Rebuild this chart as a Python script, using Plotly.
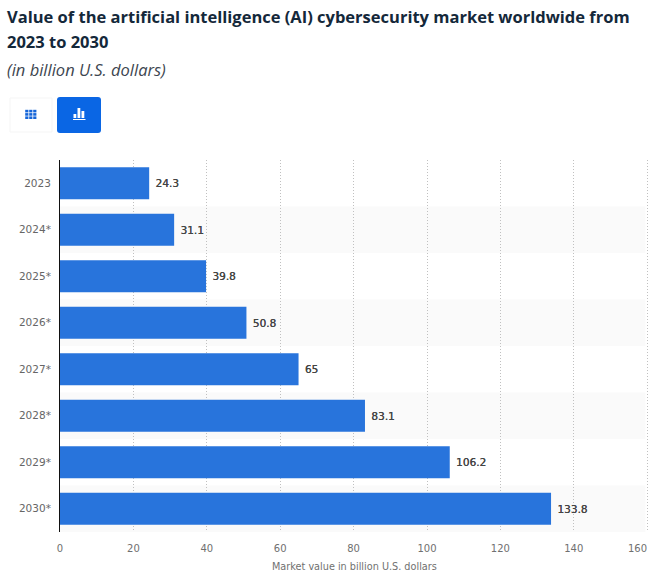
import plotly.graph_objects as go

years = ["2023", "2024*", "2025*", "2026*", "2027*", "2028*", "2029*", "2030*"]
values = [24.3, 31.1, 39.8, 50.8, 65, 83.1, 106.2, 133.8]
x_ticks = [0, 20, 40, 60, 80, 100, 120, 140, 160]
# last label sits left of its gridline in the original, so it is placed separately
x_labels = ["0", "20", "40", "60", "80", "100", "120", "140", ""]
last_x_label = "160"

W = 656
H = 577
L, R, T, B = 60, 651, 160, 532
X_MAX = (R - L) / 3.67


# pixel position on the page -> paper coordinates of the plot area
def px(x):
    return (x - L) / (R - L)


def py(y):
    return (B - y) / (B - T)


fig = go.Figure()
fig.add_trace(go.Bar(
    y=years, x=values, orientation="h", width=0.69,
    marker=dict(color="#2874dc", line_width=0),
    text=["\u00a0" + str(v) for v in values], textposition="outside", cliponaxis=False,
    textfont=dict(family="DejaVu Sans", size=10.5, color="#444444", shadow="0.2px 0 0 #444444"),
    hoverinfo="skip",
))

shapes = []
# alternate row shading
for i in range(1, len(years), 2):
    shapes.append(dict(type="rect", xref="x", yref="y", layer="below",
                       x0=0, x1=159.5, y0=i - 0.5, y1=i + 0.5,
                       fillcolor="#fafafa", line_width=0))

# table / chart toggle buttons
shapes.append(dict(type="rect", xref="paper", yref="paper", x0=px(10), x1=px(52), y0=py(132), y1=py(98),
                   fillcolor="white", line=dict(color="#f5f5f5", width=1)))
shapes.append(dict(type="path", xref="paper", yref="paper",
                   path=f"M {px(60)},{py(97)} L {px(98)},{py(97)} Q {px(101)},{py(97)} {px(101)},{py(100)} "
                        f"L {px(101)},{py(130)} Q {px(101)},{py(133)} {px(98)},{py(133)} L {px(60)},{py(133)} "
                        f"Q {px(57)},{py(133)} {px(57)},{py(130)} L {px(57)},{py(100)} Q {px(57)},{py(97)} {px(60)},{py(97)} Z",
                   fillcolor="#0a66e4", line_width=0))
# grid icon
for col in range(3):
    for row in range(3):
        x0 = 25.2 + col * 4
        y0 = 109.8 + row * 3.3
        shapes.append(dict(type="rect", xref="paper", yref="paper", x0=px(x0), x1=px(x0 + 3.2),
                           y0=py(y0), y1=py(y0 + 2.6), fillcolor="#1565d8", line_width=0))
# bars icon
for x0, top in [(73.5, 114), (77.5, 108), (81.5, 111)]:
    shapes.append(dict(type="rect", xref="paper", yref="paper", x0=px(x0), x1=px(x0 + 2.8),
                       y0=py(top), y1=py(118), fillcolor="white", line_width=0))
shapes.append(dict(type="rect", xref="paper", yref="paper", x0=px(73), x1=px(85.5),
                   y0=py(119), y1=py(120), fillcolor="white", line_width=0))

fig.update_layout(
    width=W, height=H,
    margin=dict(l=L, r=W - R, t=T, b=H - B),
    paper_bgcolor="white", plot_bgcolor="rgba(0,0,0,0)",
    showlegend=False, shapes=shapes,
    annotations=[
        dict(text="<b>Value of the artificial intelligence (AI) cybersecurity market worldwide from</b>",
             xref="paper", yref="paper", x=px(7), y=py(17), xanchor="left", yanchor="middle", showarrow=False,
             xshift=-2, font=dict(family="Open Sans", size=16.5, color="#14283a")),
        dict(text="<b>2023 to 2030</b>",
             xref="paper", yref="paper", x=px(7), y=py(41), xanchor="left", yanchor="middle", showarrow=False,
             xshift=-2, font=dict(family="Open Sans", size=16.5, color="#14283a")),
        dict(text="<i>(in billion U.S. dollars)</i>",
             xref="paper", yref="paper", x=px(7), y=py(69), xanchor="left", yanchor="middle", showarrow=False,
             xshift=-2, font=dict(family="Open Sans", size=16.5, color="#3d4650")),
        dict(text="Market value in billion U.S. dollars",
             xref="paper", yref="paper", x=px(354.5), y=py(566), xanchor="center", yanchor="middle", showarrow=False,
             font=dict(family="DejaVu Sans", size=9.7, color="#707070")),
        dict(text=last_x_label,
             xref="x", yref="paper", x=x_ticks[-1], y=py(548), xanchor="right", yanchor="middle", showarrow=False,
             xshift=2, font=dict(family="DejaVu Sans", size=10, color="#707070")),
    ],
    xaxis=dict(
        range=[0, X_MAX], tickvals=x_ticks, ticktext=x_labels, side="bottom", zeroline=False,
        showgrid=True, gridcolor="#c0c0c0", griddash="1px,2px", gridwidth=1,
        showline=False, ticks="", ticklabelstandoff=9, automargin=False,
        tickfont=dict(family="DejaVu Sans", size=10, color="#707070"),
    ),
    yaxis=dict(
        categoryorder="array", categoryarray=years, autorange="reversed",
        showgrid=False, zeroline=False, showline=True, linecolor="#111111", linewidth=1,
        ticks="", ticklabelstandoff=6, automargin=False,
        tickfont=dict(family="DejaVu Sans", size=10.5, color="#666666"),
    ),
)

# page body has a default margin, which would push the chart off the window
fig.write_html("out.html", config={"displayModeBar": False}, post_script="document.body.style.margin='0';")
